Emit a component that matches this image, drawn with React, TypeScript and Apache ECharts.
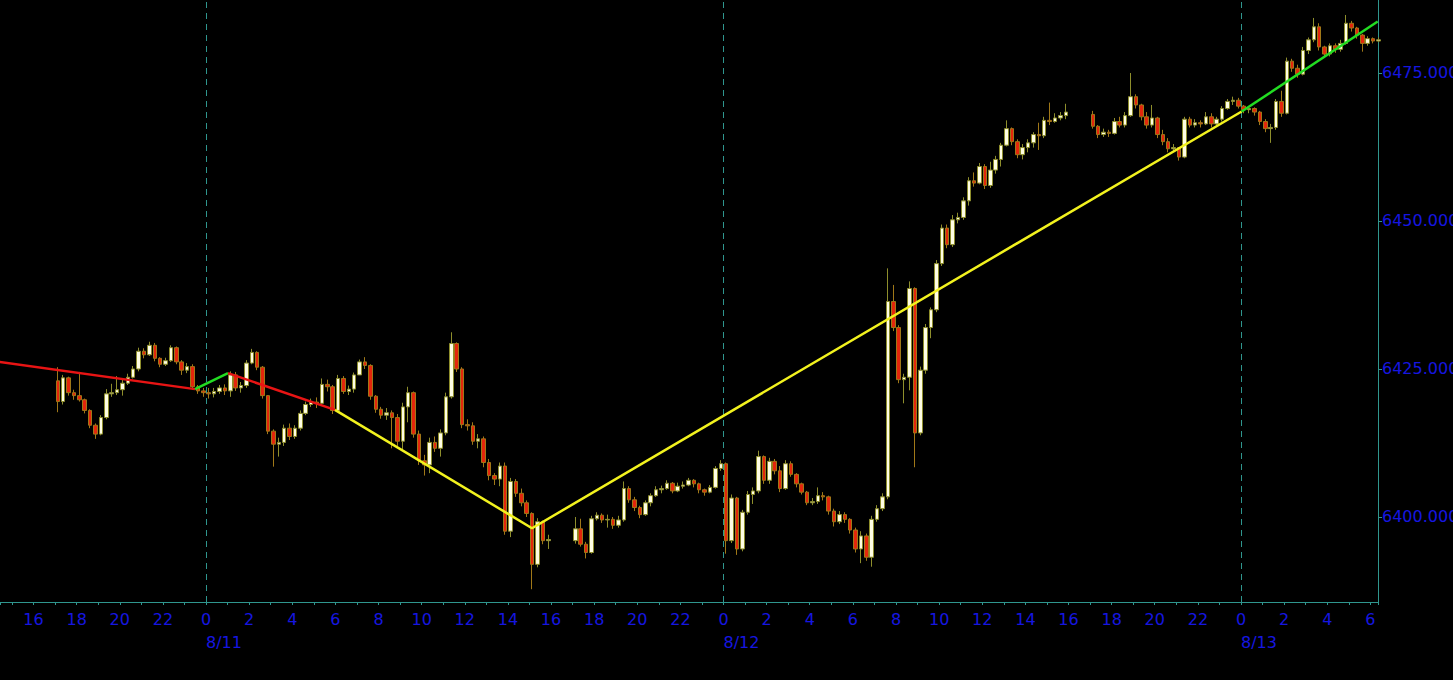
import { useEffect, useRef } from 'react';
import * as echarts from 'echarts';

// 15-minute bars, hours counted from 8/11 00:00
const BAR_HOURS = 0.25;
const sessionStarts = [-7, 17, 41];
const sessionOpens = [6423.0, 6396.0, 6468.0];

const s1Close = [
    6419.5, 6423.5, 6421.0, 6420.5, 6419.8, 6418.0, 6415.5, 6414.0, 6416.8, 6420.8, 6421.0, 6421.5,
    6422.6, 6423.6, 6425.0, 6428.0, 6427.4, 6429.0, 6426.8, 6425.8, 6426.4, 6428.6, 6426.2, 6424.8,
    6425.4, 6422.0, 6421.3, 6421.0, 6420.8, 6421.2, 6421.8, 6421.3, 6424.0, 6421.8, 6422.2, 6426.0,
    6427.8, 6425.3, 6420.5, 6414.5, 6412.3, 6412.6, 6415.0, 6413.6, 6415.0, 6417.5, 6419.0, 6419.4,
    6419.2, 6422.4, 6422.0, 6418.0, 6423.4, 6421.2, 6421.6, 6424.0, 6426.2, 6425.6, 6420.4, 6418.2,
    6417.2, 6417.6, 6416.8, 6412.8, 6418.6, 6421.0, 6414.0, 6409.5, 6408.8, 6412.6, 6411.6, 6414.2,
    6420.3, 6429.3, 6425.0, 6415.6, 6415.4, 6412.8, 6413.2, 6409.2, 6407.0, 6406.4, 6408.6, 6397.6,
    6406.0, 6404.0, 6402.4, 6400.6, 6392.0, 6399.2, 6396.0, 6396.2,
];
const s1High = [
    6425.3, 6424.0, 6423.7, 6421.5, 6424.5, 6420.0, 6418.2, 6415.8, 6417.2, 6421.6, 6422.5, 6423.8,
    6423.2, 6424.2, 6425.5, 6428.6, 6428.5, 6429.6, 6429.4, 6427.0, 6426.9, 6429.0, 6428.8, 6426.5,
    6426.0, 6425.8, 6422.3, 6421.8, 6421.8, 6421.8, 6422.3, 6422.4, 6424.6, 6424.5, 6422.8, 6426.5,
    6428.4, 6428.0, 6425.5, 6420.6, 6414.8, 6413.4, 6415.6, 6415.8, 6415.5, 6418.0, 6419.5, 6420.0,
    6420.2, 6423.4, 6423.2, 6422.3, 6424.0, 6423.8, 6422.2, 6424.4, 6426.6, 6427.0, 6425.8, 6420.6,
    6418.6, 6418.4, 6418.0, 6417.4, 6419.3, 6422.0, 6421.2, 6414.6, 6410.5, 6413.4, 6413.6, 6414.8,
    6421.0, 6431.2, 6429.5, 6425.3, 6416.5, 6416.0, 6414.0, 6413.6, 6409.8, 6407.4, 6409.2, 6409.2,
    6406.6, 6406.4, 6404.8, 6402.8, 6400.8, 6399.8, 6399.4, 6397.0,
];
const s1Low = [
    6417.7, 6419.0, 6420.5, 6419.8, 6419.5, 6417.5, 6415.0, 6413.2, 6413.8, 6416.5, 6420.3, 6420.6,
    6420.5, 6422.3, 6423.4, 6424.6, 6426.8, 6427.2, 6426.3, 6425.3, 6425.5, 6426.2, 6425.8, 6424.0,
    6424.3, 6421.5, 6420.8, 6420.3, 6420.0, 6420.2, 6420.8, 6420.6, 6420.3, 6421.3, 6421.0, 6421.8,
    6425.8, 6424.8, 6420.0, 6414.0, 6408.5, 6410.2, 6412.0, 6413.0, 6413.2, 6414.6, 6417.2, 6418.6,
    6418.4, 6419.0, 6421.2, 6417.4, 6417.8, 6420.8, 6420.6, 6421.0, 6424.0, 6425.0, 6419.8, 6417.6,
    6416.6, 6416.4, 6411.6, 6412.0, 6411.3, 6416.0, 6413.4, 6408.8, 6407.0, 6407.4, 6411.0, 6410.2,
    6413.8, 6420.0, 6424.5, 6415.0, 6414.6, 6412.2, 6411.6, 6408.4, 6406.2, 6405.4, 6405.2, 6397.0,
    6396.6, 6403.4, 6401.8, 6400.0, 6387.8, 6391.5, 6395.4, 6394.6,
];

const s2Close = [
    6398.0, 6395.4, 6394.0, 6399.7, 6400.3, 6399.5, 6399.6, 6398.6, 6399.5, 6404.8, 6402.9, 6401.6,
    6400.4, 6402.4, 6403.6, 6404.6, 6404.8, 6405.7, 6404.4, 6405.2, 6405.4, 6406.2, 6405.6, 6404.6,
    6404.2, 6405.0, 6408.2, 6409.0, 6396.0, 6403.2, 6394.6, 6400.8, 6403.8, 6404.4, 6410.2, 6406.2,
    6409.4, 6407.8, 6404.8, 6409.0, 6407.2, 6405.6, 6404.2, 6402.4, 6402.6, 6403.6, 6403.4, 6401.0,
    6399.2, 6400.4, 6399.6, 6397.8, 6394.6, 6396.8, 6393.2, 6399.6, 6401.4, 6403.4, 6436.4, 6432.0,
    6423.2, 6423.6, 6438.6, 6414.2, 6424.8, 6432.0, 6435.0, 6442.8, 6448.8, 6446.0, 6450.2, 6450.6,
    6453.4, 6456.8, 6456.4, 6459.2, 6456.0, 6458.6, 6460.4, 6462.8, 6465.6, 6463.4, 6461.2, 6462.4,
    6463.2, 6464.6, 6464.4, 6467.0, 6466.8, 6467.4, 6467.8, 6468.4,
];
const s2High = [
    6400.0, 6399.7, 6395.8, 6400.2, 6400.8, 6400.6, 6400.4, 6400.0, 6400.2, 6406.0, 6405.2, 6403.4,
    6401.9, 6402.8, 6404.0, 6405.2, 6405.3, 6406.2, 6405.9, 6405.8, 6406.0, 6406.6, 6406.4, 6405.8,
    6404.8, 6405.4, 6408.6, 6409.6, 6409.2, 6403.8, 6403.4, 6401.2, 6404.4, 6405.0, 6411.2, 6410.4,
    6410.0, 6409.8, 6408.6, 6409.6, 6409.4, 6407.4, 6405.8, 6404.4, 6403.2, 6405.0, 6404.2, 6403.6,
    6401.4, 6401.0, 6400.8, 6399.8, 6398.2, 6397.6, 6397.2, 6400.2, 6402.0, 6404.0, 6442.0, 6439.2,
    6432.4, 6424.2, 6439.8, 6438.8, 6425.4, 6432.6, 6435.4, 6443.4, 6449.4, 6449.4, 6451.0, 6451.4,
    6454.0, 6457.4, 6458.2, 6459.8, 6459.6, 6460.0, 6461.0, 6463.2, 6467.0, 6465.8, 6463.8, 6463.0,
    6463.8, 6465.0, 6466.6, 6467.6, 6470.0, 6468.2, 6468.4, 6469.8,
];
const s2Low = [
    6395.5, 6395.0, 6393.0, 6393.8, 6399.4, 6399.0, 6398.2, 6398.0, 6398.2, 6399.2, 6402.4, 6401.0,
    6399.8, 6400.2, 6401.8, 6403.4, 6404.0, 6404.6, 6404.0, 6404.2, 6404.8, 6405.2, 6405.0, 6404.0,
    6403.6, 6404.0, 6404.8, 6407.8, 6393.8, 6395.6, 6393.6, 6394.2, 6400.4, 6402.2, 6404.0, 6405.6,
    6405.6, 6407.2, 6404.2, 6404.6, 6406.8, 6405.0, 6403.8, 6402.0, 6402.0, 6402.2, 6402.8, 6400.4,
    6398.4, 6398.8, 6399.0, 6397.2, 6394.0, 6392.2, 6392.6, 6391.6, 6399.2, 6401.0, 6403.0, 6431.4,
    6422.6, 6419.2, 6421.4, 6408.4, 6413.8, 6424.2, 6430.2, 6434.6, 6442.4, 6445.4, 6445.6, 6449.6,
    6450.2, 6452.6, 6455.8, 6456.2, 6455.4, 6455.6, 6458.0, 6459.2, 6462.6, 6462.8, 6460.6, 6460.4,
    6461.6, 6462.4, 6462.0, 6464.0, 6466.2, 6466.6, 6467.0, 6467.2,
];

const s3Close = [
    6466.0, 6464.6, 6465.0, 6464.8, 6466.8, 6466.2, 6467.8, 6471.0, 6469.6, 6467.6, 6466.2, 6467.4,
    6464.6, 6463.4, 6462.2, 6462.4, 6460.8, 6467.2, 6466.2, 6466.6, 6466.4, 6467.6, 6466.4, 6467.2,
    6469.0, 6470.2, 6470.4, 6469.4, 6468.8, 6469.0, 6468.4, 6466.8, 6465.6, 6465.8, 6470.2, 6468.2,
    6477.0, 6475.8, 6474.8, 6478.8, 6480.6, 6482.8, 6479.4, 6478.2, 6479.6, 6479.0, 6480.0, 6483.4,
    6482.6, 6481.4, 6480.0, 6480.8, 6480.4, 6480.6,
];
const s3High = [
    6468.6, 6466.2, 6465.6, 6465.4, 6467.4, 6467.6, 6468.4, 6475.0, 6471.4, 6469.8, 6468.4, 6469.6,
    6467.6, 6465.4, 6464.0, 6463.0, 6462.4, 6467.6, 6467.6, 6467.2, 6467.0, 6468.4, 6468.2, 6467.6,
    6469.4, 6470.6, 6471.0, 6470.8, 6469.6, 6469.4, 6469.2, 6468.6, 6467.2, 6466.4, 6470.6, 6472.0,
    6477.6, 6477.4, 6476.4, 6479.4, 6481.0, 6484.3, 6483.4, 6479.6, 6480.0, 6480.0, 6480.6, 6484.8,
    6483.8, 6482.8, 6481.6, 6481.2, 6481.0, 6481.0,
];
const s3Low = [
    6465.6, 6464.0, 6464.2, 6464.2, 6464.6, 6465.8, 6465.8, 6467.6, 6469.0, 6467.0, 6465.6, 6465.8,
    6464.0, 6462.8, 6461.6, 6461.8, 6460.2, 6460.6, 6465.8, 6465.8, 6465.8, 6466.2, 6465.8, 6466.0,
    6466.8, 6468.8, 6469.6, 6469.0, 6468.2, 6468.2, 6467.8, 6466.2, 6465.0, 6463.2, 6465.4, 6467.6,
    6468.0, 6475.2, 6474.2, 6474.6, 6478.2, 6480.2, 6478.8, 6477.6, 6477.8, 6478.4, 6478.6, 6479.8,
    6482.0, 6480.8, 6478.6, 6479.6, 6480.0, 6480.2,
];

const sessionCloses = [s1Close, s2Close, s3Close];
const sessionHighs = [s1High, s2High, s3High];
const sessionLows = [s1Low, s2Low, s3Low];

const dayStarts = [0, 24, 48];
const dayLabels = ['8/11', '8/12', '8/13'];

// trend lines [hour, price]
const redTrendA = [[-10, 6426.4], [-0.51, 6421.6]];
const greenTrendA = [[-0.51, 6421.6], [1.02, 6424.3]];
const redTrendB = [[1.02, 6424.3], [5.98, 6418.1]];
const yellowTrend = [[5.98, 6418.1], [15.12, 6398.1], [48.03, 6468.5]];
const greenTrendB = [[48.03, 6468.5], [54.34, 6483.7]];

const HOUR_MIN = -9.554;
const HOUR_MAX = 54.354;
const PRICE_MIN = 6385.64;
const PRICE_MAX = 6487.33;

const AXIS = '#2f968e';
const LABEL = '#1616e0';
const FONT = 'DejaVu Sans';

const buildCandles = () => {
    const rows: number[][] = [];
    sessionStarts.forEach((start, s) => {
        const closes = sessionCloses[s];
        closes.forEach((close, i) => {
            const open = i === 0 ? sessionOpens[s] : closes[i - 1];
            const high = Math.max(sessionHighs[s][i], open, close);
            const low = Math.min(sessionLows[s][i], open, close);
            rows.push([start + i * BAR_HOURS + BAR_HOURS / 2, open, close, low, high]);
        });
    });
    return rows;
};

const trendSeries = (data: number[][], color: string) => ({
    type: 'line',
    data,
    showSymbol: false,
    silent: true,
    z: 5,
    lineStyle: { color, width: 2.5 },
});

const baseX = {
    type: 'value',
    min: HOUR_MIN,
    max: HOUR_MAX,
    position: 'bottom',
    gridIndex: 0,
    splitLine: { show: false },
};

const App = () => {
    const chartRef = useRef(null);

    useEffect(() => {
        if (chartRef.current) {
            const myChart = echarts.init(chartRef.current, null, { renderer: 'svg' });

            const option = {
                animation: false,
                backgroundColor: '#000000',
                grid: {
                    left: 0,
                    right: 75,
                    top: 0,
                    bottom: 78,
                    containLabel: false,
                    outerBoundsMode: 'none',
                },
                xAxis: [
                    {
                        ...baseX,
                        minInterval: 2,
                        maxInterval: 2,
                        axisLine: { show: true, onZero: false, lineStyle: { color: AXIS, width: 1 } },
                        axisTick: { show: false },
                        axisLabel: {
                            color: LABEL,
                            fontFamily: FONT,
                            fontSize: 16,
                            margin: 9,
                            showMinLabel: false,
                            showMaxLabel: false,
                            formatter: (v: number) =>
                                Number.isInteger(v) ? String(((v % 24) + 24) % 24) : '',
                        },
                    },
                    {
                        ...baseX,
                        minInterval: 2,
                        maxInterval: 2,
                        axisLine: { show: false, onZero: false },
                        axisTick: { show: false },
                        axisLabel: {
                            color: LABEL,
                            fontFamily: FONT,
                            fontSize: 16,
                            margin: 32,
                            align: 'left',
                            formatter: (v: number) => {
                                const i = dayStarts.indexOf(v);
                                return i >= 0 ? dayLabels[i] : '';
                            },
                        },
                    },
                    {
                        ...baseX,
                        minInterval: 1,
                        maxInterval: 1,
                        axisLine: { show: false, onZero: false },
                        axisTick: { show: true, length: 3, lineStyle: { color: AXIS } },
                        axisLabel: { show: false },
                    },
                ],
                yAxis: {
                    type: 'value',
                    position: 'right',
                    min: PRICE_MIN,
                    max: PRICE_MAX,
                    minInterval: 25,
                    maxInterval: 25,
                    splitLine: { show: false },
                    axisLine: { show: true, onZero: false, lineStyle: { color: AXIS, width: 1 } },
                    axisTick: { show: true, length: 4, lineStyle: { color: AXIS } },
                    axisLabel: {
                        color: LABEL,
                        fontFamily: FONT,
                        fontSize: 16,
                        margin: 4,
                        showMinLabel: false,
                        showMaxLabel: false,
                        formatter: (v: number) => v.toFixed(3),
                    },
                },
                series: [
                    {
                        type: 'candlestick',
                        data: buildCandles(),
                        encode: { x: 0, y: [1, 2, 3, 4] },
                        barWidth: 4,
                        z: 3,
                        itemStyle: {
                            color: '#fffde4',
                            color0: '#e4260c',
                            borderColor: '#8e8e2c',
                            borderColor0: '#a07818',
                            borderWidth: 1,
                        },
                        markLine: {
                            silent: true,
                            symbol: 'none',
                            label: { show: false },
                            lineStyle: { color: AXIS, type: [6, 5], width: 1 },
                            data: dayStarts.map((d) => ({ xAxis: d })),
                        },
                    },
                    trendSeries(redTrendA, '#e81414'),
                    trendSeries(greenTrendA, '#22dc22'),
                    trendSeries(redTrendB, '#e81414'),
                    trendSeries(yellowTrend, '#f2f21e'),
                    trendSeries(greenTrendB, '#22dc22'),
                ],
            };

            myChart.setOption(option as any);

            return () => {
                myChart.dispose();
            };
        }
    }, []);

    return (
        <div
            ref={chartRef}
            style={{ position: 'fixed', left: 0, top: 0, width: '1453px', height: '680px', background: '#000' }}
        />
    );
};

export default App;
